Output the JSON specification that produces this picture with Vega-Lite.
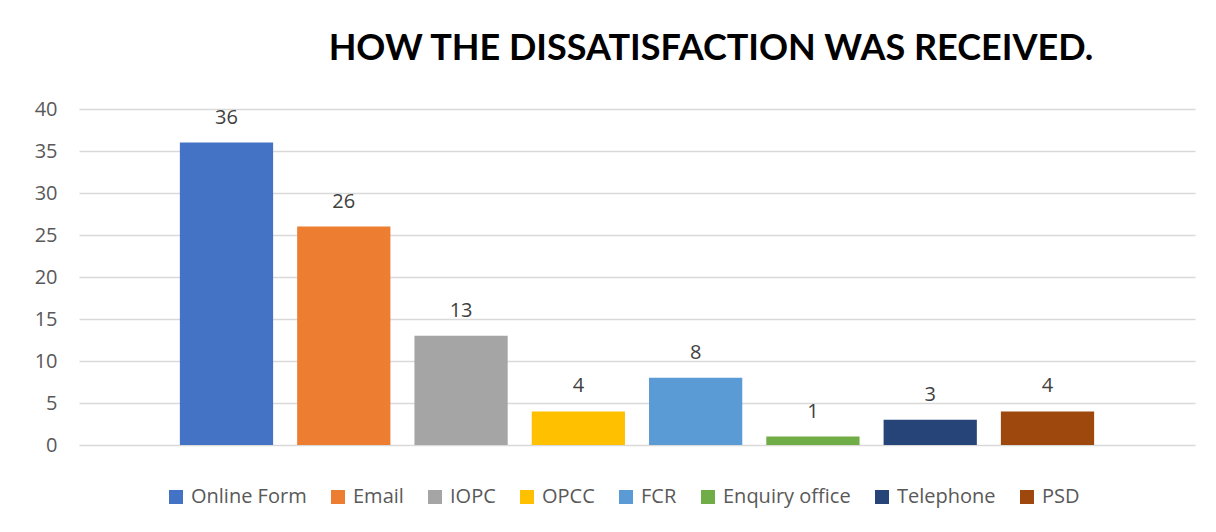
{
  "$schema": "https://vega.github.io/schema/vega-lite/v6.json",
  "width": 1116,
  "height": 336,
  "autosize": {"type": "none"},
  "padding": {"left": 79, "top": 109, "right": 21, "bottom": 87},
  "background": "white",
  "title": {
    "text": "HOW THE DISSATISFACTION WAS RECEIVED.",
    "font": "Lato",
    "fontSize": 36,
    "fontWeight": "bold",
    "color": "#000000",
    "anchor": "middle",
    "dx": 74,
    "offset": 31
  },
  "data": {
    "values": [
      {"source": "Online Form", "count": 36},
      {"source": "Email", "count": 26},
      {"source": "IOPC", "count": 13},
      {"source": "OPCC", "count": 4},
      {"source": "FCR", "count": 8},
      {"source": "Enquiry office", "count": 1},
      {"source": "Telephone", "count": 3},
      {"source": "PSD", "count": 4}
    ]
  },
  "encoding": {
    "x": {
      "field": "source",
      "type": "nominal",
      "sort": null,
      "axis": null,
      "scale": {"paddingInner": 0.205, "paddingOuter": 0.86}
    },
    "y": {
      "field": "count",
      "type": "quantitative",
      "scale": {"domain": [0, 40]},
      "axis": {
        "values": [0, 5, 10, 15, 20, 25, 30, 35, 40],
        "title": null,
        "domain": false,
        "ticks": false,
        "labelFont": "Open Sans",
        "labelFontSize": 20,
        "labelColor": "#595959",
        "labelPadding": 22,
        "gridColor": "#D9D9D9",
        "gridWidth": 1.5
      }
    }
  },
  "layer": [
    {
      "mark": {"type": "bar"},
      "encoding": {
        "color": {
          "field": "source",
          "type": "nominal",
          "sort": null,
          "scale": {
            "domain": ["Online Form", "Email", "IOPC", "OPCC", "FCR", "Enquiry office", "Telephone", "PSD"],
            "range": ["#4472C4", "#ED7D31", "#A5A5A5", "#FFC000", "#5B9BD5", "#70AD47", "#264478", "#9E480E"]
          },
          "legend": {
            "title": null,
            "orient": "none",
            "direction": "horizontal",
            "legendX": 87,
            "legendY": 378,
            "symbolType": "square",
            "symbolSize": 196,
            "symbolStrokeWidth": 0,
            "labelFont": "Open Sans",
            "labelFontSize": 20,
            "labelColor": "#595959",
            "columnPadding": 21,
            "labelOffset": 5
          }
        }
      }
    },
    {
      "mark": {
        "type": "text",
        "baseline": "bottom",
        "dy": -15,
        "font": "Open Sans",
        "fontSize": 20,
        "color": "#404040"
      },
      "encoding": {
        "text": {"field": "count", "type": "quantitative"}
      }
    }
  ],
  "config": {
    "view": {"stroke": null}
  }
}
